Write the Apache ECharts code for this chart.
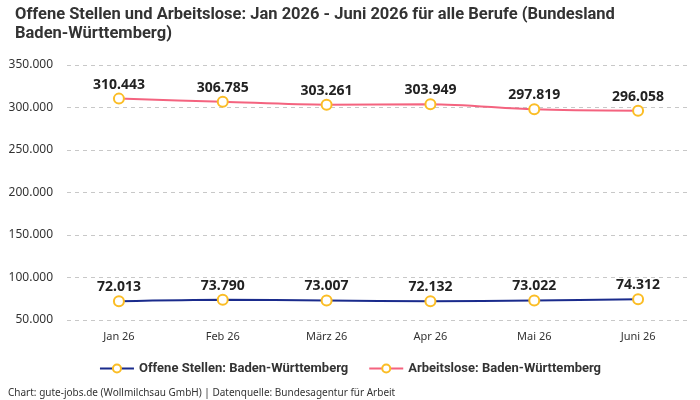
<!DOCTYPE html>
<html>
<head>
<meta charset="utf-8">
<script src="https://cdn.jsdelivr.net/npm/echarts@6/dist/echarts.min.js"></script>
<style>
  html, body { margin: 0; padding: 0; background: #fff; }
  #chart { width: 700px; height: 400px; }
</style>
</head>
<body>
<div id="chart"></div>
<script>
  var months = ['Jan 26', 'Feb 26', 'März 26', 'Apr 26', 'Mai 26', 'Juni 26'];
  var offeneStellen = [72013, 73790, 73007, 72132, 73022, 74312];
  var arbeitslose = [310443, 306785, 303261, 303949, 297819, 296058];

  var font = '"Noto Sans", sans-serif';
  var boldFont = 'Roboto, "Noto Sans", sans-serif';

  function fmt(v) {
    return String(Math.round(v)).replace(/\B(?=(\d{3})+(?!\d))/g, '.');
  }

  var chart = echarts.init(document.getElementById('chart'));
  var option = {
    backgroundColor: '#fff',
    textStyle: { fontFamily: font },
    title: {
      text: 'Offene Stellen und Arbeitslose: Jan 2026 - Juni 2026 für alle Berufe (Bundesland\nBaden-Württemberg)',
      left: 10,
      top: 0,
      textStyle: {
        fontFamily: boldFont,
        fontSize: 16.5,
        fontWeight: 'bold',
        color: '#333',
        lineHeight: 19
      }
    },
    grid: { left: 67, right: 10, top: 65, bottom: 80 },
    legend: {
      bottom: 20,
      left: 'center',
      itemWidth: 34,
      itemHeight: 10,
      itemGap: 20,
      textStyle: { fontSize: 13, fontWeight: 'bold', color: '#333', fontFamily: boldFont },
      data: ['Offene Stellen: Baden-Württemberg', 'Arbeitslose: Baden-Württemberg']
    },
    xAxis: {
      type: 'category',
      data: months,
      axisLine: { show: false },
      axisTick: { show: false },
      axisLabel: { color: '#333', fontSize: 11, margin: 11 }
    },
    yAxis: {
      type: 'value',
      min: 50000,
      max: 350000,
      interval: 50000,
      axisLabel: { color: '#333', fontSize: 12, margin: 14, formatter: fmt },
      splitLine: { lineStyle: { type: [4, 4], color: '#c8c8c8' } }
    },
    series: [
      {
        name: 'Offene Stellen: Baden-Württemberg',
        type: 'line',
        data: offeneStellen,
        smooth: 0.3,
        symbol: 'circle',
        symbolSize: 10,
        lineStyle: { color: '#1a2b8c', width: 2 },
        itemStyle: { color: '#fff', borderColor: '#fbbd25', borderWidth: 2 },
        label: {
          show: true,
          position: 'top',
          distance: 1,
          fontSize: 14,
          fontWeight: 'bold',
          color: '#222',
          formatter: function (p) { return fmt(p.value); }
        }
      },
      {
        name: 'Arbeitslose: Baden-Württemberg',
        type: 'line',
        data: arbeitslose,
        smooth: 0.3,
        symbol: 'circle',
        symbolSize: 10,
        lineStyle: { color: '#f4637f', width: 2 },
        itemStyle: { color: '#fff', borderColor: '#fbbd25', borderWidth: 2 },
        label: {
          show: true,
          position: 'top',
          distance: 1,
          fontSize: 14,
          fontWeight: 'bold',
          color: '#222',
          formatter: function (p) { return fmt(p.value); }
        }
      }
    ],
    graphic: [
      {
        type: 'text',
        left: 8,
        bottom: 2,
        style: {
          text: 'Chart: gute-jobs.de (Wollmilchsau GmbH) | Datenquelle: Bundesagentur für Arbeit',
          fontSize: 10,
          fill: '#333',
          fontFamily: font
        }
      }
    ]
  };
  chart.setOption(option);
</script>
</body>
</html>
